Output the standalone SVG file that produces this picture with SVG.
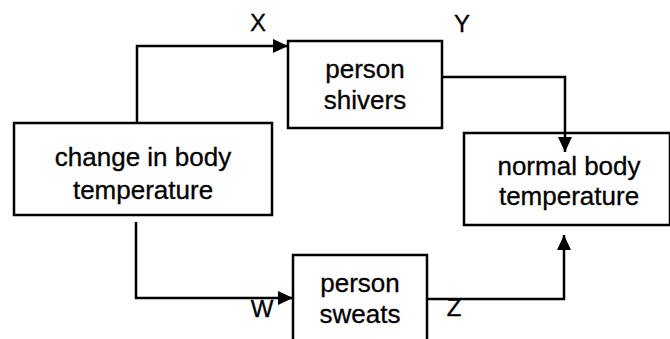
<svg xmlns="http://www.w3.org/2000/svg" width="670" height="339" viewBox="0 0 670 339">
  <style>
    .box { fill: #ffffff; stroke: #000000; stroke-width: 2.5; }
    .txt { font-family: "Liberation Sans", Arial, sans-serif; font-size: 26px; fill: #000000; stroke: #000000; stroke-width: 0.3; text-anchor: middle; }
    .lbl { font-family: "Liberation Sans", Arial, sans-serif; font-size: 24px; fill: #000000; stroke: #000000; stroke-width: 0.3; text-anchor: middle; }
    .wire { fill: none; stroke: #000000; stroke-width: 2.5; }
  </style>
  <defs>
    <marker id="arrow" markerUnits="userSpaceOnUse" markerWidth="15" markerHeight="14" refX="15" refY="7" orient="auto">
      <polygon points="0,0 15,7 0,14" fill="#000000"/>
    </marker>
  </defs>

  <rect width="670" height="339" fill="#ffffff"/>

  <g id="change">
    <rect class="box" x="14" y="123" width="258" height="92"/>
    <text class="txt" x="143" y="166">change in body</text>
    <text class="txt" x="143" y="199">temperature</text>
  </g>

  <g id="shivers">
    <rect class="box" x="288" y="41" width="154" height="87"/>
    <text class="txt" x="365" y="78">person</text>
    <text class="txt" x="365" y="109">shivers</text>
  </g>

  <g id="normal">
    <rect class="box" x="464" y="133" width="206" height="92"/>
    <text class="txt" x="569" y="175">normal body</text>
    <text class="txt" x="569" y="205">temperature</text>
  </g>

  <g id="sweats">
    <rect class="box" x="293" y="255" width="134" height="95"/>
    <text class="txt" x="360" y="292">person</text>
    <text class="txt" x="360" y="323">sweats</text>
  </g>

  <g id="connectors">
    <path class="wire" d="M137,122 V46 H288" marker-end="url(#arrow)"/>
    <path class="wire" d="M442,77 H565 V152" marker-end="url(#arrow)"/>
    <path class="wire" d="M136,222 V298 H293" marker-end="url(#arrow)"/>
    <path class="wire" d="M427,299 H564 V235" marker-end="url(#arrow)"/>
    <text class="lbl" x="258" y="31">X</text>
    <text class="lbl" x="462" y="32">Y</text>
    <text class="lbl" x="262" y="317">W</text>
    <text class="lbl" x="454" y="316">Z</text>
  </g>
</svg>
